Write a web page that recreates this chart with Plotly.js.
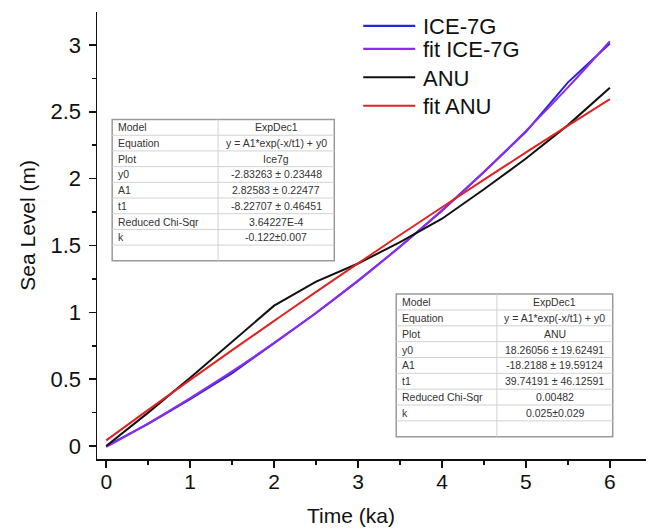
<!DOCTYPE html>
<html>
<head>
<meta charset="utf-8">
<script src="https://cdn.plot.ly/plotly-3.0.1.min.js"></script>
<style>
  html, body { margin: 0; padding: 0; background: #ffffff; }
  #chart { width: 648px; height: 529px; }
</style>
</head>
<body>
<div id="chart"></div>
<script>
// ---- data ----
var timeKa = [0, 0.5, 1, 1.5, 2, 2.5, 3, 3.5, 4, 4.5, 5, 5.5, 6];
var ice7g = [0, 0.165, 0.35, 0.545, 0.77, 0.995, 1.235, 1.49, 1.76, 2.05, 2.35, 2.72, 3.01];
var fitIce7g = [-0.007, 0.170, 0.359, 0.558, 0.771, 0.997, 1.237, 1.492, 1.763, 2.051, 2.357, 2.682, 3.027];
var anu = [0, 0.25, 0.51, 0.78, 1.05, 1.23, 1.365, 1.525, 1.70, 1.92, 2.15, 2.40, 2.68];
var fitAnu = [0.042, 0.270, 0.495, 0.717, 0.936, 1.153, 1.366, 1.578, 1.786, 1.992, 2.196, 2.396, 2.595];

var seriesNames = ['ICE-7G', 'fit ICE-7G', 'ANU', 'fit ANU'];
var seriesColors = ['#2424dc', '#8e2cee', '#111111', '#e02222'];

var xTickVals = [0, 1, 2, 3, 4, 5, 6];
var xTickText = ['0', '1', '2', '3', '4', '5', '6'];
var yTickVals = [0, 0.5, 1, 1.5, 2, 2.5, 3];
var yTickText = ['0', '0.5', '1', '1.5', '2', '2.5', '3'];

var xTitle = 'Time (ka)';
var yTitle = 'Sea Level (m)';

var tableLabels = ['Model', 'Equation', 'Plot', 'y0', 'A1', 't1', 'Reduced Chi-Sqr', 'k', ''];
var table1Values = ['ExpDec1', 'y = A1*exp(-x/t1) + y0', 'Ice7g', '-2.83263 ± 0.23448', '2.82583 ± 0.22477', '-8.22707 ± 0.46451', '3.64227E-4', '-0.122±0.007', ''];
var table2Values = ['ExpDec1', 'y = A1*exp(-x/t1) + y0', 'ANU', '18.26056 ± 19.62491', '-18.2188 ± 19.59124', '39.74191 ± 46.12591', '0.00482', '0.025±0.029', ''];

// ---- layout geometry ----
var W = 648, H = 529;
var M = {l: 96.5, r: 2, t: 11.7, b: 70, pad: 0};
var PW = W - M.l - M.r, PH = H - M.t - M.b;
function xp(px) { return (px - M.l) / PW; }
function yp(py) { return (H - M.b - py) / PH; }

var FONT = 'Liberation Sans, Arial, Helvetica, sans-serif';

var traces = [
  {x: timeKa, y: ice7g, name: seriesNames[0], mode: 'lines', line: {color: seriesColors[0], width: 2}},
  {x: timeKa, y: fitIce7g, name: seriesNames[1], mode: 'lines', line: {color: seriesColors[1], width: 2, shape: 'spline'}},
  {x: timeKa, y: anu, name: seriesNames[2], mode: 'lines', line: {color: seriesColors[2], width: 2}},
  {x: timeKa, y: fitAnu, name: seriesNames[3], mode: 'lines', line: {color: seriesColors[3], width: 2, shape: 'spline'}}
];

var shapes = [];
var annotations = [];

// legend (Origin-style: long line samples, tight rows)
var legendRows = [25.5, 48.5, 77, 105.5];
for (var s = 0; s < seriesNames.length; s++) {
  shapes.push({type: 'line', xref: 'paper', yref: 'paper', layer: 'above',
    x0: xp(363), x1: xp(415), y0: yp(legendRows[s]), y1: yp(legendRows[s]),
    line: {color: seriesColors[s], width: 2.2}});
  annotations.push({xref: 'paper', yref: 'paper', x: xp(421), y: yp(legendRows[s] + 1),
    xanchor: 'left', yanchor: 'middle', showarrow: false, text: seriesNames[s],
    font: {family: FONT, size: 22, color: '#111111'}});
}

function buildTable(box, labels, values) {
  var n = labels.length;
  var rh = (box.bottom - box.top) / n;
  shapes.push({type: 'rect', xref: 'paper', yref: 'paper', layer: 'above',
    x0: xp(box.left), x1: xp(box.right), y0: yp(box.bottom), y1: yp(box.top),
    fillcolor: '#ffffff', line: {color: '#9a9a9a', width: 1.5}});
  for (var i = 1; i < n; i++) {
    var yy = box.top + i * rh;
    shapes.push({type: 'line', xref: 'paper', yref: 'paper', layer: 'above',
      x0: xp(box.left), x1: xp(box.right), y0: yp(yy), y1: yp(yy),
      line: {color: '#d2d2d2', width: 1}});
  }
  shapes.push({type: 'line', xref: 'paper', yref: 'paper', layer: 'above',
    x0: xp(box.mid), x1: xp(box.mid), y0: yp(box.bottom), y1: yp(box.top),
    line: {color: '#d2d2d2', width: 1}});
  for (var j = 0; j < n; j++) {
    var cy = box.top + (j + 0.5) * rh;
    if (labels[j]) {
      annotations.push({xref: 'paper', yref: 'paper', x: xp(box.left + 4), y: yp(cy),
        xanchor: 'left', yanchor: 'middle', showarrow: false, text: labels[j],
        font: {family: FONT, size: 10.5, color: '#333333'}});
    }
    if (values[j]) {
      annotations.push({xref: 'paper', yref: 'paper', x: xp((box.mid + box.right) / 2), y: yp(cy),
        xanchor: 'center', yanchor: 'middle', showarrow: false, text: values[j],
        font: {family: FONT, size: 10.5, color: '#333333'}});
    }
  }
}

buildTable({left: 111.7, mid: 217.7, right: 334, top: 119.3, bottom: 260.7}, tableLabels, table1Values);
buildTable({left: 396, mid: 496.7, right: 612.7, top: 294, bottom: 436.7}, tableLabels, table2Values);

annotations.push({xref: 'paper', yref: 'paper', x: xp(351), y: yp(516), xanchor: 'center', yanchor: 'middle',
  showarrow: false, text: xTitle, font: {family: FONT, size: 21, color: '#111111'}});
annotations.push({xref: 'paper', yref: 'paper', x: xp(27), y: yp(225), xanchor: 'center', yanchor: 'middle',
  showarrow: false, textangle: -90, text: yTitle, font: {family: FONT, size: 21, color: '#111111'}});

var layout = {
  width: W, height: H,
  margin: M,
  paper_bgcolor: '#ffffff', plot_bgcolor: '#ffffff',
  font: {family: FONT, color: '#111111'},
  showlegend: false,
  xaxis: {
    range: [-0.11, 6.43], tickmode: 'array', tickvals: xTickVals, ticktext: xTickText,
    showgrid: false, zeroline: false, showline: true, linecolor: '#111111', linewidth: 1.5,
    ticks: 'outside', ticklen: 7, tickwidth: 1.5, tickcolor: '#111111', ticklabelstandoff: -4,
    tickfont: {family: FONT, size: 21, color: '#111111'},
    minor: {ticks: 'outside', ticklen: 4, tickwidth: 1.5, tickcolor: '#111111', dtick: 0.5, tick0: 0, showgrid: false}
  },
  yaxis: {
    range: [-0.097, 3.246], tickmode: 'array', tickvals: yTickVals, ticktext: yTickText,
    showgrid: false, zeroline: false, showline: true, linecolor: '#111111', linewidth: 1.5,
    ticks: 'outside', ticklen: 7, tickwidth: 1.5, tickcolor: '#111111', ticklabelstandoff: 3,
    tickfont: {family: FONT, size: 22, color: '#111111'},
    minor: {ticks: 'outside', ticklen: 4, tickwidth: 1.5, tickcolor: '#111111', dtick: 0.25, tick0: 0, showgrid: false}
  },
  shapes: shapes,
  annotations: annotations
};

Plotly.newPlot('chart', traces, layout, {displayModeBar: false, staticPlot: true});
</script>
</body>
</html>
